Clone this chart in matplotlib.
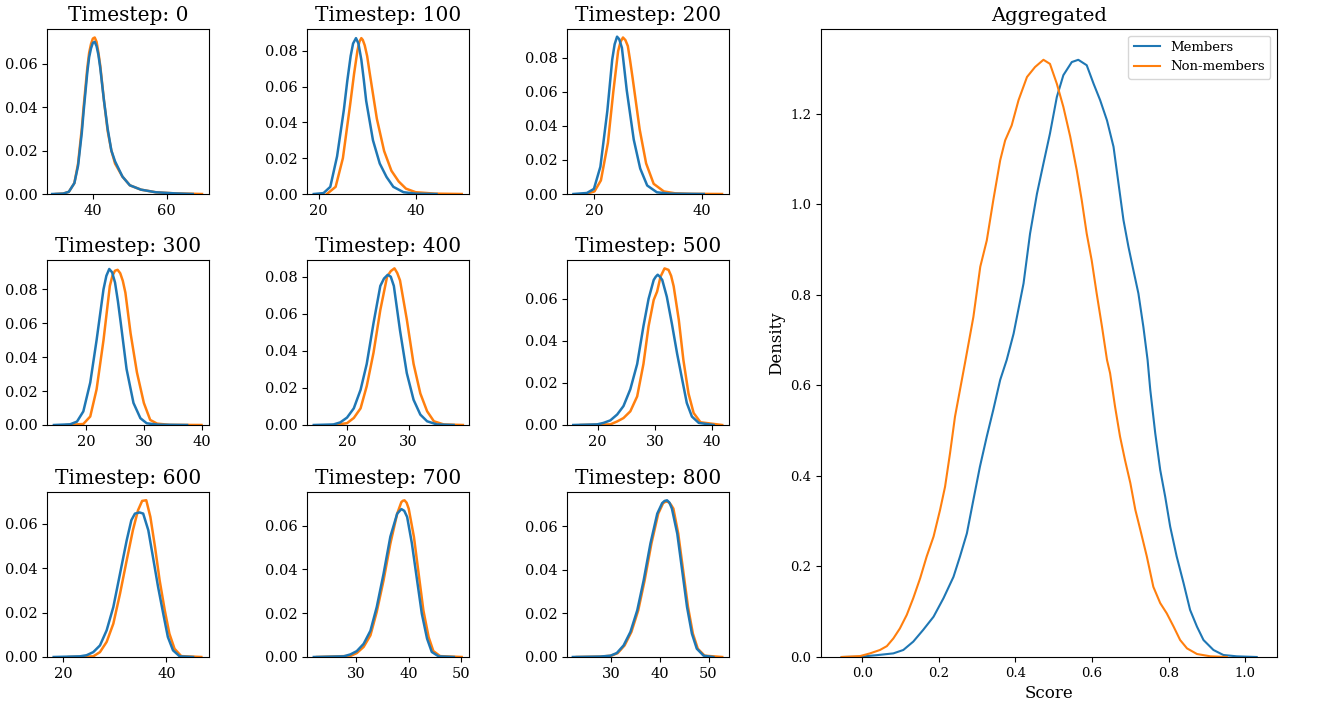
import matplotlib
matplotlib.use("Agg")
import matplotlib.pyplot as plt

plt.rcParams['font.family'] = 'DejaVu Serif'

# per-timestep density curves (members / non-members)
timesteps = [0, 100, 200, 300, 400, 500, 600, 700, 800]

mem_x = [
    [29, 32, 33.5, 35, 36, 37, 37.5, 38, 38.5, 39, 39.5, 40, 40.5, 41, 41.5, 42, 43, 44, 45, 46, 48, 50, 53, 57, 62, 67],
    [19, 21, 22.4, 23.8, 25.2, 25.9, 26.6, 27.1, 27.7, 28.2, 28.8, 29.3, 29.8, 31.2, 32.6, 34, 35.4, 37.5, 40, 44.3],
    [16.1, 18.6, 19.9, 21.1, 22.4, 23.3, 23.75, 24.2, 24.6, 25.1, 25.5, 26, 27.3, 28.5, 29.8, 31.6, 34, 40.3],
    [14.4, 17.2, 18.4, 19.5, 20.7, 21.8, 23, 23.5, 24, 24.5, 25, 25.5, 26, 27, 28.2, 29.4, 30.5, 32.5, 37.5],
    [14.6, 17.8, 18.9, 20, 21.1, 22.2, 23.2, 24.3, 25.4, 26, 26.6, 27.1, 27.6, 28.6, 29.7, 30.8, 31.9, 33, 34.6, 37.3],
    [15.7, 19.9, 21, 22.2, 23.4, 24.5, 25.7, 26.9, 28, 28.9, 29.8, 30.15, 30.5, 30.9, 31.3, 32.1, 33, 33.9, 34.8, 35.6, 36.5, 37.7, 40.3],
    [18.1, 23.2, 24.5, 25.8, 27.1, 28.4, 29.7, 31, 32.3, 33.2, 33.9, 34.8, 35.5, 36.5, 37.4, 38.4, 39.4, 40.3, 41.3, 42.6, 45.2],
    [21.9, 27.6, 28.9, 30.1, 31.4, 32.7, 33.9, 35.2, 36.5, 37.8, 38.6, 39.15, 39.7, 40.6, 41.6, 42.5, 43.5, 44.4, 45.7, 48.6],
    [22.2, 27.8, 29.9, 31.2, 32.6, 34, 35.4, 36.7, 38.1, 39.5, 40.5, 41, 41.5, 42, 42.5, 43.6, 44.6, 45.6, 46.6, 47.6, 49, 51],
]
mem_y = [
    [0, 0.0002, 0.001, 0.005, 0.013, 0.028, 0.038, 0.047, 0.056, 0.063, 0.067, 0.0695, 0.070, 0.068, 0.064, 0.058, 0.043, 0.030, 0.020, 0.015, 0.008, 0.004, 0.002, 0.0008, 0.0003, 0],
    [0, 0.0005, 0.004, 0.021, 0.047, 0.063, 0.077, 0.084, 0.087, 0.084, 0.075, 0.064, 0.052, 0.030, 0.017, 0.0095, 0.004, 0.001, 0.0002, 0],
    [0, 0.0006, 0.003, 0.016, 0.049, 0.079, 0.088, 0.0925, 0.091, 0.086, 0.075, 0.061, 0.032, 0.015, 0.005, 0.001, 0.0002, 0],
    [0, 0.0004, 0.002, 0.008, 0.025, 0.050, 0.080, 0.088, 0.092, 0.090, 0.084, 0.073, 0.060, 0.033, 0.013, 0.004, 0.001, 0.0002, 0],
    [0, 0.0003, 0.0014, 0.004, 0.009, 0.019, 0.033, 0.055, 0.075, 0.079, 0.081, 0.080, 0.075, 0.051, 0.028, 0.0136, 0.0056, 0.002, 0.0003, 0],
    [0, 0.0003, 0.001, 0.0022, 0.005, 0.009, 0.017, 0.029, 0.047, 0.060, 0.069, 0.0705, 0.0715, 0.0705, 0.069, 0.061, 0.048, 0.034, 0.0215, 0.0105, 0.004, 0.001, 0],
    [0, 0.0003, 0.0008, 0.0022, 0.0052, 0.012, 0.0225, 0.0375, 0.0525, 0.0615, 0.0645, 0.065, 0.0645, 0.057, 0.045, 0.0315, 0.0195, 0.009, 0.003, 0.0003, 0],
    [0, 0.0003, 0.0012, 0.0027, 0.006, 0.012, 0.0228, 0.038, 0.055, 0.0655, 0.0676, 0.0668, 0.064, 0.052, 0.035, 0.0198, 0.0084, 0.0023, 0.0003, 0],
    [0, 0.0002, 0.0006, 0.0018, 0.0053, 0.0115, 0.0214, 0.035, 0.052, 0.0657, 0.0705, 0.0715, 0.0718, 0.0707, 0.068, 0.0565, 0.0397, 0.0229, 0.0107, 0.0038, 0.0006, 0],
]

non_x = [
    [30, 32, 33.5, 35, 36, 37, 37.5, 38, 38.5, 39, 39.5, 40, 40.5, 41, 41.5, 42, 43, 44, 45, 46, 48, 50, 53, 57, 62, 69.5],
    [21.7, 23.5, 25, 26.5, 27.3, 28, 28.4, 28.8, 29.1, 29.5, 30, 30.5, 32, 33.5, 35, 36.5, 38, 40, 44, 49.5],
    [18.3, 20, 21.2, 22.5, 23.5, 24.4, 24.85, 25.3, 25.75, 26.2, 26.6, 27.1, 28.4, 29.6, 31, 32.9, 35, 38, 43.7],
    [16.6, 19.5, 20.7, 21.8, 23, 24.1, 24.55, 25, 25.45, 25.9, 26.35, 26.8, 27.7, 28.8, 30, 31.1, 32.3, 34.5, 40],
    [17.8, 20, 21.1, 22.2, 23.2, 24.3, 25.4, 26.5, 27.1, 27.7, 28.15, 28.6, 29.7, 30.8, 31.9, 33, 34.1, 35.7, 38.8],
    [17, 22.2, 23.4, 24.5, 25.7, 26.9, 28, 28.9, 29.8, 30.4, 31, 31.7, 32.4, 32.85, 33.3, 34.2, 35, 35.9, 36.8, 38, 41.8],
    [21, 25.8, 27.1, 28.4, 29.7, 31, 32.3, 33.5, 34.5, 35.3, 36.1, 36.9, 37.8, 38.7, 39.7, 40.6, 41.6, 42.9, 46.8],
    [22.5, 28.9, 30.1, 31.4, 32.7, 33.9, 35.2, 36.5, 37.8, 38.6, 38.9, 39.2, 39.6, 40, 41, 41.9, 42.8, 43.8, 44.7, 46, 50.1],
    [23, 28, 30.1, 31.4, 32.8, 34.2, 35.6, 36.9, 38.3, 39.7, 40.7, 41.25, 41.8, 42.3, 42.8, 43.8, 44.8, 45.8, 46.8, 47.8, 49.2, 52.8],
]
non_y = [
    [0, 0.0002, 0.001, 0.005, 0.014, 0.030, 0.040, 0.049, 0.058, 0.065, 0.069, 0.0715, 0.072, 0.070, 0.065, 0.059, 0.043, 0.029, 0.020, 0.014, 0.008, 0.004, 0.002, 0.0008, 0.0003, 0],
    [0, 0.004, 0.02, 0.05, 0.067, 0.08, 0.085, 0.087, 0.086, 0.083, 0.077, 0.068, 0.042, 0.024, 0.013, 0.007, 0.003, 0.001, 0.0002, 0],
    [0, 0.0015, 0.008, 0.03, 0.06, 0.084, 0.0895, 0.092, 0.0905, 0.087, 0.079, 0.068, 0.038, 0.018, 0.006, 0.0015, 0.0004, 0.0001, 0],
    [0, 0.0006, 0.005, 0.021, 0.050, 0.082, 0.088, 0.091, 0.0915, 0.0895, 0.085, 0.078, 0.054, 0.031, 0.013, 0.003, 0.0008, 0.0001, 0],
    [0, 0.001, 0.0038, 0.009, 0.021, 0.039, 0.062, 0.080, 0.083, 0.0845, 0.082, 0.078, 0.057, 0.033, 0.017, 0.0074, 0.002, 0.0003, 0],
    [0, 0.0003, 0.0017, 0.0033, 0.0065, 0.0136, 0.029, 0.047, 0.0595, 0.0635, 0.0706, 0.0745, 0.0738, 0.071, 0.066, 0.050, 0.031, 0.015, 0.0057, 0.0013, 0],
    [0, 0.0003, 0.0022, 0.0068, 0.015, 0.0285, 0.0435, 0.057, 0.066, 0.0702, 0.0705, 0.063, 0.0495, 0.0345, 0.021, 0.0105, 0.0037, 0.0004, 0],
    [0, 0.0005, 0.0018, 0.0046, 0.0099, 0.0206, 0.035, 0.0518, 0.0655, 0.0708, 0.0714, 0.0716, 0.0705, 0.0678, 0.0548, 0.038, 0.0213, 0.0091, 0.0027, 0.0004, 0],
    [0, 0.0002, 0.0006, 0.0018, 0.0053, 0.0115, 0.0214, 0.035, 0.052, 0.0657, 0.0705, 0.0712, 0.071, 0.0698, 0.068, 0.0565, 0.0397, 0.0229, 0.0107, 0.0038, 0.0006, 0],
]

xlims = [(27.6, 71.4), (17.6, 51), (14.9, 45.0), (13.2, 41.3), (13.5, 39.8),
         (14.6, 43.0), (16.8, 48.3), (20.6, 51.5), (21, 54.2)]
ytops = [0.0759, 0.0921, 0.097, 0.0973, 0.089, 0.0785, 0.0742, 0.0754, 0.0756]
xticks = [[40, 60], [20, 40], [20, 40], [20, 30, 40], [20, 30],
          [20, 30, 40], [20, 40], [30, 40, 50], [30, 40, 50]]

# aggregated scores
agg_mem_x = [-0.054, -0.006, 0.037, 0.081, 0.107, 0.133, 0.159, 0.186, 0.212, 0.238, 0.255, 0.273,
             0.29, 0.307, 0.325, 0.342, 0.36, 0.377, 0.395, 0.421, 0.438, 0.456, 0.473, 0.49, 0.508,
             0.525, 0.547, 0.564, 0.586, 0.604, 0.621, 0.639, 0.656, 0.669, 0.682, 0.695, 0.708,
             0.721, 0.734, 0.745, 0.752, 0.765, 0.778, 0.791, 0.804, 0.821, 0.839, 0.856, 0.874,
             0.891, 0.917, 0.943, 0.978, 1.03]
agg_mem_y = [0, 0.0007, 0.004, 0.008, 0.0155, 0.034, 0.060, 0.089, 0.13, 0.177, 0.222, 0.273,
             0.347, 0.42, 0.487, 0.546, 0.612, 0.656, 0.714, 0.825, 0.935, 1.023, 1.09, 1.156, 1.237,
             1.285, 1.314, 1.319, 1.307, 1.266, 1.23, 1.185, 1.127, 1.046, 0.965, 0.906, 0.854,
             0.803, 0.729, 0.656, 0.59, 0.494, 0.413, 0.354, 0.288, 0.222, 0.163, 0.104, 0.067,
             0.0375, 0.0155, 0.0044, 0.0015, 0]

agg_non_x = [-0.054, -0.006, 0.02, 0.046, 0.064, 0.081, 0.098, 0.116, 0.133, 0.151, 0.168, 0.186,
             0.203, 0.216, 0.229, 0.242, 0.255, 0.268, 0.29, 0.308, 0.325, 0.342, 0.36, 0.373,
             0.39, 0.408, 0.43, 0.451, 0.473, 0.49, 0.508, 0.525, 0.543, 0.56, 0.573, 0.586,
             0.599, 0.612, 0.626, 0.639, 0.647, 0.66, 0.673, 0.686, 0.7, 0.713, 0.726, 0.743,
             0.76, 0.778, 0.795, 0.813, 0.83, 0.848, 0.874, 0.909, 0.952]
agg_non_y = [0, 0.002, 0.008, 0.0155, 0.024, 0.041, 0.063, 0.093, 0.13, 0.174, 0.222, 0.266,
             0.325, 0.376, 0.45, 0.531, 0.59, 0.649, 0.751, 0.862, 0.92, 1.009, 1.097, 1.141,
             1.174, 1.23, 1.281, 1.303, 1.319, 1.31, 1.266, 1.215, 1.149, 1.075, 1.009, 0.935,
             0.876, 0.803, 0.729, 0.656, 0.627, 0.553, 0.487, 0.435, 0.384, 0.325, 0.281, 0.222,
             0.155, 0.119, 0.0965, 0.067, 0.0375, 0.019, 0.0066, 0.0015, 0]

BLUE = '#1f77b4'
ORANGE = '#ff7f0e'
W, H = 1318, 704

fig = plt.figure(figsize=(W / 100, H / 100), dpi=100)

def px_axes(left, top, width, height):
    return fig.add_axes([left / W, 1 - (top + height) / H, width / W, height / H])

col_left = [47, 307, 567]
row_top = [29, 260, 492]

for i, ts in enumerate(timesteps):
    r, c = divmod(i, 3)
    ax = px_axes(col_left[c], row_top[r], 162, 165)
    # non-members drawn first so members sit on top, as in the original
    ax.plot(non_x[i], non_y[i], color=ORANGE, lw=1.8, solid_joinstyle='round')
    ax.plot(mem_x[i], mem_y[i], color=BLUE, lw=1.8, solid_joinstyle='round')
    ax.set_xlim(*xlims[i])
    ax.set_ylim(0, ytops[i])
    ax.set_xticks(xticks[i])
    ax.tick_params(labelsize=10.5)
    ax.set_title(f'Timestep: {ts}', fontsize=14.5)

ax = px_axes(821, 29, 456, 628)
ax.plot(agg_mem_x, agg_mem_y, color=BLUE, lw=1.5, label='Members', solid_joinstyle='round')
ax.plot(agg_non_x, agg_non_y, color=ORANGE, lw=1.5, label='Non-members', solid_joinstyle='round')
ax.set_xlim(-0.108, 1.083)
ax.set_ylim(0, 1.387)
ax.set_xticks([0.0, 0.2, 0.4, 0.6, 0.8, 1.0])
ax.set_yticks([0.0, 0.2, 0.4, 0.6, 0.8, 1.0, 1.2])
ax.tick_params(labelsize=9.5)
ax.set_title('Aggregated', fontsize=14)
ax.set_xlabel('Score', fontsize=12)
ax.set_ylabel('Density', fontsize=12)
ax.legend(loc='upper right', fontsize=9.5)

fig.savefig('out.png', dpi=100)
